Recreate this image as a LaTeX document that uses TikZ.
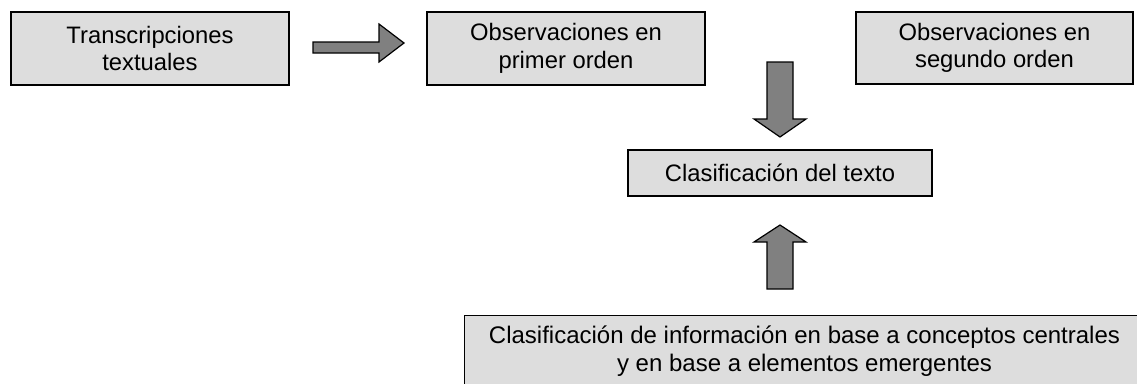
\documentclass[tikz,border=0pt]{standalone}
\usepackage{fontspec}
\setmainfont{Liberation Sans}
\begin{document}
\begin{tikzpicture}[x=1pt,y=-1pt,
  box/.style={draw=black,fill=boxgray,line width=1.2pt,inner sep=0pt,align=center,
    font=\fontsize{23.8pt}{27.5pt}\selectfont},
  blockarrow/.style={draw=black,fill=arrowgray,line width=1.2pt,line join=miter}]
\definecolor{boxgray}{HTML}{DDDDDD}
\definecolor{arrowgray}{HTML}{808080}
\useasboundingbox (0,0) rectangle (1137,383);
\clip (0,0) rectangle (1137,383);
\node[box,minimum width=278pt,minimum height=73pt] (t) at (150,48.5) {Transcripciones\\textuales};
\node[box,minimum width=278pt,minimum height=73pt] (o1) at (566,48.5) {Observaciones en\\primer orden};
\node[box,minimum width=277pt,minimum height=72pt] (o2) at (994.5,48) {Observaciones en\\segundo orden};
\node[box,minimum width=304pt,minimum height=46pt] (c) at (780,173) {Clasificación del texto};
\node[box,minimum width=690pt,minimum height=90pt,anchor=north west] (ci) at (464,315) {};
\node[align=center,inner sep=0pt,font=\fontsize{24pt}{27.5pt}\selectfont] (cit) at (804.5,351) {Clasificación de información en base a conceptos centrales\\y en base a elementos emergentes};
% right arrow
\draw[blockarrow] (313,42) -- (379,42) -- (379,24) -- (404,43) -- (379,62) -- (379,53) -- (313,53) -- cycle;
% down arrow
\draw[blockarrow] (767,62) -- (793,62) -- (793,119) -- (806,119) -- (780,137) -- (754,119) -- (767,119) -- cycle;
% up arrow
\draw[blockarrow] (767,289) -- (793,289) -- (793,242) -- (806,242) -- (780,225) -- (754,242) -- (767,242) -- cycle;
\end{tikzpicture}
\end{document}
